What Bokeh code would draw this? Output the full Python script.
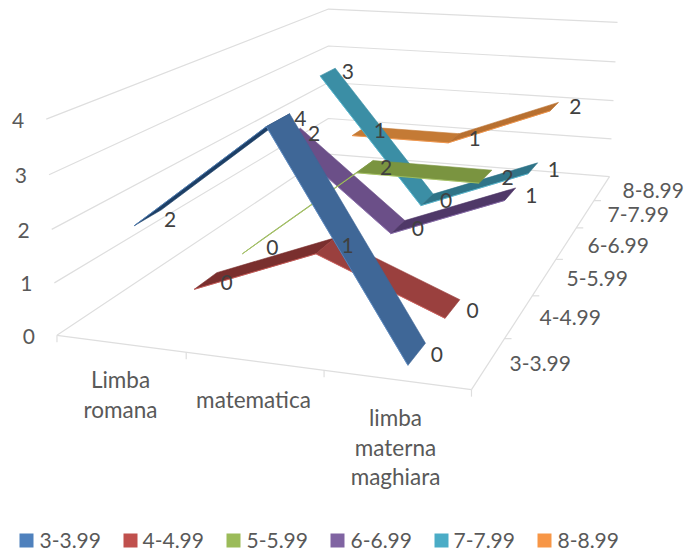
import numpy as np
from bokeh.plotting import figure
from bokeh.models import ColumnDataSource
from bokeh.core.properties import value
from bokeh.embed import file_html
from bokeh.resources import INLINE

# ---- data ----
category_lines = [["Limba", "romana"], ["matematica"], ["limba", "materna", "maghiara"]]
series_names = ["3-3.99", "4-4.99", "5-5.99", "6-6.99", "7-7.99", "8-8.99"]
s3 = [2, 4, 0]
s4 = [0, 1, 0]
s5 = [0, 2, 2]
s6 = [2, 0, 1]
s7 = [3, 0, 1]
s8 = [1, 1, 2]
series_values = [s3, s4, s5, s6, s7, s8]
value_ticks = [0, 1, 2, 3, 4]

# ---- styles ----
legend_colors = ["#4f81bd", "#c0504d", "#9bbb59", "#8064a2", "#4bacc6", "#f79646"]
seg_colors = [["#1d3f66", "#3f6797"], ["#7a2f2e", "#9a403e"], ["#8aa84f", "#7a9440"],
              ["#6b4f88", "#4f3868"], ["#3b8ea5", "#2f7488"], ["#c47a35", "#b87030"]]
edge_colors = ["#5b8bc5", "#d05a57", "#a8c763", "#8a6cae", "#55bbd4", "#f79646"]
GRID = "#dedede"
AXIS_TXT = "#595959"
LABEL_TXT = "#404040"
FONT = "Lato"
FS_NUM = "21px"
FS_TXT = "22.5px"
W = 0.225

# ---- 3D frame: (category pos, depth pos, value) -> reference pixel ----
frame = [
    ((0, 0, 0), (57, 334)), ((0, 0, 1), (53, 283)), ((0, 0, 2), (51, 229)), ((0, 0, 3), (49, 175)), ((0, 0, 4), (46, 119)),
    ((0, 6, 0), (328, 153)), ((0, 6, 1), (328, 118)), ((0, 6, 2), (328, 83)), ((0, 6, 3), (328, 45)), ((0, 6, 4), (328, 8)),
    ((3, 6, 0), (607, 177)), ((3, 6, 1), (610, 138)), ((3, 6, 2), (613, 100)), ((3, 6, 3), (615, 61)), ((3, 6, 4), (617, 22)),
    ((1, 0, 0), (185, 352)), ((2, 0, 0), (323, 369)), ((3, 0, 0), (470, 388)),
    ((3, 1, 0), (504, 338)), ((3, 2, 0), (532, 296)), ((3, 3, 0), (557, 259)), ((3, 4, 0), (577, 228)), ((3, 5, 0), (595, 200)),
]
rows = []
for (u, v, z), (x, y) in frame:
    x, y = x / 600.0, y / 600.0
    rows.append([u, v, z, 1, 0, 0, 0, 0, -x * u, -x * v, -x * z, -x])
    rows.append([0, 0, 0, 0, u, v, z, 1, -y * u, -y * v, -y * z, -y])
P = np.linalg.svd(np.array(rows, dtype=float))[2][-1].reshape(3, 4)


def proj(u, v, z):
    h = P @ np.array([u, v, z, 1.0])
    return float(h[0] / h[2] * 600), float(h[1] / h[2] * 600)


p = figure(width=687, height=553, x_range=(0, 687), y_range=(553, 0), output_backend="svg",
           toolbar_location=None, min_border=0, outline_line_color=None,
           x_axis_type=None, y_axis_type=None)
p.grid.visible = False
p.background_fill_color = "white"

# walls and floor
gx, gy = [], []
for z in value_ticks:
    pts = [proj(0, 0, z), proj(0, 6, z), proj(3, 6, z)]
    gx.append([q[0] for q in pts]); gy.append([q[1] for q in pts])
for a, b in [((0, 0, 0), (3, 0, 0)), ((3, 0, 0), (3, 6, 0))]:
    q0, q1 = proj(*a), proj(*b)
    gx.append([q0[0], q1[0]]); gy.append([q0[1], q1[1]])
for i in range(4):
    q = proj(i, 0, 0)
    gx.append([q[0], q[0]]); gy.append([q[1], q[1] + 7])
for i in range(1, 6):
    q = proj(3, i, 0)
    gx.append([q[0], q[0] + 7]); gy.append([q[1], q[1]])
p.multi_line(gx, gy, line_color=GRID, line_width=1.2)

# ribbons, back to front
for i in range(5, -1, -1):
    vals = series_values[i]
    v = i + 0.5
    xs, ys, cols = [], [], []
    for j in [0, 1]:
        corners = [proj(j + .5, v - W, vals[j]), proj(j + .5, v + W, vals[j]),
                   proj(j + 1.5, v + W, vals[j + 1]), proj(j + 1.5, v - W, vals[j + 1])]
        xs.append([c[0] for c in corners]); ys.append([c[1] for c in corners])
        cols.append(seg_colors[i][j])
    src = ColumnDataSource(dict(xs=xs, ys=ys, c=cols))
    p.patches("xs", "ys", source=src, fill_color="c", line_color="c", line_width=0.6)
    # front edge
    fr = [proj(j + .5, v - W, vals[j]) for j in range(3)]
    p.line([f[0] for f in fr], [f[1] for f in fr], line_color=edge_colors[i], line_width=0.8)

# data labels
label_offsets = [[(22, 2), (22, -2), (20, 0)], [(21, 2), (22, 0), (20, 2)], [(20, 1), (21, 1), (22, 1)],
                 [(22, 0), (20, 2), (21, 1)], [(20, 0), (19, 1), (21, 1)], [(21, -1), (21, 0), (21, 0)]]
lx, ly, lt = [], [], []
for i in range(6):
    for j in range(3):
        q = proj(j + .5, i + .5, series_values[i][j])
        lx.append(q[0] + label_offsets[i][j][0]); ly.append(q[1] + label_offsets[i][j][1]); lt.append(str(series_values[i][j]))
p.text(lx, ly, text=lt, text_color=LABEL_TXT, text_font=value(FONT), text_font_size=FS_NUM,
       text_align="center", text_baseline="middle")

# value axis labels
vx, vy = [], []
for z in value_ticks:
    q = proj(0, 0, z)
    vx.append(q[0] - 22); vy.append(q[1] + 1)
p.text(vx, vy, text=[str(z) for z in value_ticks], text_color=AXIS_TXT, text_font=value(FONT),
       text_font_size=FS_NUM, text_align="right", text_baseline="middle")

# category labels
cat_centers = [120, 253, 395]
cat_first_y = [379, 399, 417]
cx, cy, ct = [], [], []
for c, y0, lines in zip(cat_centers, cat_first_y, category_lines):
    for k, t in enumerate(lines):
        cx.append(c); cy.append(y0 + 29.5 * k); ct.append(t)
p.text(cx, cy, text=ct, text_color=AXIS_TXT, text_font=value(FONT), text_font_size=FS_TXT,
       text_align="center", text_baseline="middle")

# depth axis labels
depth_left = [509, 539, 566, 587, 607, 622]
depth_y = [363, 317, 278, 245, 214, 190]
p.text(depth_left, depth_y, text=series_names, text_color=AXIS_TXT, text_font=value(FONT),
       text_font_size=FS_NUM, text_align="left", text_baseline="middle")

# legend
leg_sq = [19, 123, 226, 330, 434, 537]
leg_tx = [39, 142, 246, 350, 453, 557]
LEG_Y = 540
p.rect([x + 7 for x in leg_sq], [LEG_Y] * 6, width=14, height=14, fill_color=legend_colors, line_color=None)
p.text(leg_tx, [LEG_Y] * 6, text=series_names, text_color=AXIS_TXT, text_font=value(FONT),
       text_font_size=FS_NUM, text_align="left", text_baseline="middle")

open("out.html", "w").write(file_html(p, INLINE))
